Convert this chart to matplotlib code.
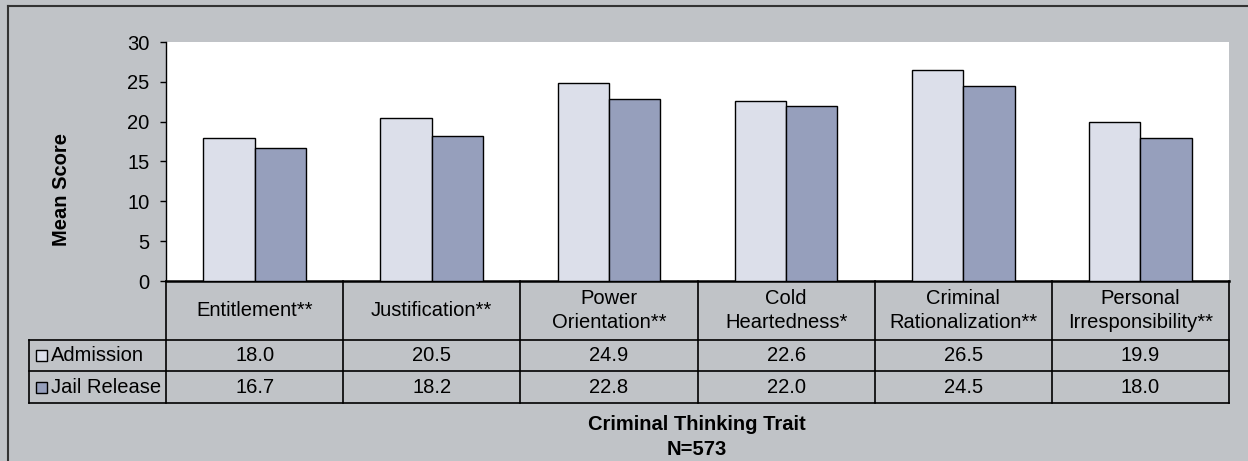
import numpy as np
import matplotlib.pyplot as plt
from matplotlib.patches import Rectangle
import matplotlib.transforms as mtransforms

plt.rcParams['font.family'] = ['Liberation Sans', 'DejaVu Sans']

# data
traits = ['Entitlement**', 'Justification**', 'Power\nOrientation**', 'Cold\nHeartedness*',
          'Criminal\nRationalization**', 'Personal\nIrresponsibility**']
series_names = ['Admission', 'Jail Release']
admission = [18.0, 20.5, 24.9, 22.6, 26.5, 19.9]
jail_release = [16.7, 18.2, 22.8, 22.0, 24.5, 18.0]
y_ticks = [0, 5, 10, 15, 20, 25, 30]

bg = '#C0C3C7'
colors = ['#DCDFEA', '#969FBC']
W, H = 1248, 461
fs = 14.5

fig = plt.figure(figsize=(W / 100, H / 100), dpi=100, facecolor=bg)
ax = fig.add_axes([166 / W, 1 - 281 / H, (1229 - 166) / W, (281 - 42) / H])
ax.set_facecolor('white')

x = np.arange(len(traits)) + 0.5
bw = 0.29
ax.bar(x - bw / 2, admission, bw, color=colors[0], edgecolor='black', linewidth=1, zorder=3)
ax.bar(x + bw / 2, jail_release, bw, color=colors[1], edgecolor='black', linewidth=1, zorder=3)

ax.set_xlim(0, len(traits))
ax.set_ylim(0, 30)
ax.set_yticks(y_ticks)
ax.tick_params(axis='y', labelsize=fs, length=4, width=1, direction='out', pad=8)
ax.set_xticks([])
for s in ['top', 'right']:
    ax.spines[s].set_visible(False)
ax.spines['left'].set_linewidth(1)
ax.spines['bottom'].set_linewidth(1.8)

fig.text(62 / W, 1 - 190 / H, 'Mean Score', rotation=90, ha='center', va='center',
         fontsize=fs, fontweight='bold')

# data table under the plot (x in data units, y in axes units)
tr = mtransforms.blended_transform_factory(ax.transData, ax.transAxes)
ph = 281 - 42
cw = (1229 - 166) / len(traits)
y_head = -(340 - 281) / ph
y_r1 = -(371 - 281) / ph
y_r2 = -(403 - 281) / ph
x_lab = (29 - 166) / cw
lk = dict(color='black', linewidth=1.2, transform=tr, clip_on=False)

for i in range(len(traits) + 1):
    ax.plot([i, i], [0, y_r2], **lk)
ax.plot([x_lab, x_lab], [y_head, y_r2], **lk)
for yy in [y_head, y_r1, y_r2]:
    ax.plot([x_lab, len(traits)], [yy, yy], **lk)

for i, t in enumerate(traits):
    ax.text(x[i], y_head / 2, t, ha='center', va='center', fontsize=fs,
            transform=tr, linespacing=1.3)
rows = [admission, jail_release]
row_y = [(y_head + y_r1) / 2, (y_r1 + y_r2) / 2]
for r, vals in enumerate(rows):
    for i, v in enumerate(vals):
        ax.text(x[i], row_y[r], f'{v:.1f}', ha='center', va='center', fontsize=fs, transform=tr)
    # legend key + row label
    key_w = 11 / cw
    key_h = 11 / ph
    ax.add_patch(Rectangle((x_lab + 7 / cw, row_y[r] - key_h / 2), key_w, key_h,
                           facecolor=colors[r], edgecolor='black', linewidth=1,
                           transform=tr, clip_on=False))
    ax.text(x_lab + 22 / cw, row_y[r], series_names[r], ha='left', va='center',
            fontsize=fs, transform=tr)

fig.text(697 / W, 1 - 424 / H, 'Criminal Thinking Trait', ha='center', va='center',
         fontsize=fs, fontweight='bold')
fig.text(697 / W, 1 - 449 / H, 'N=573', ha='center', va='center',
         fontsize=fs, fontweight='bold')

# outer frame edges
fig.add_artist(plt.Line2D([8 / W, 8 / W], [0, 1 - 6 / H], color='#333333', linewidth=1.5))
fig.add_artist(plt.Line2D([8 / W, 1], [1 - 6 / H, 1 - 6 / H], color='#333333', linewidth=1.5))

fig.savefig('out.png', dpi=100, facecolor=bg)
